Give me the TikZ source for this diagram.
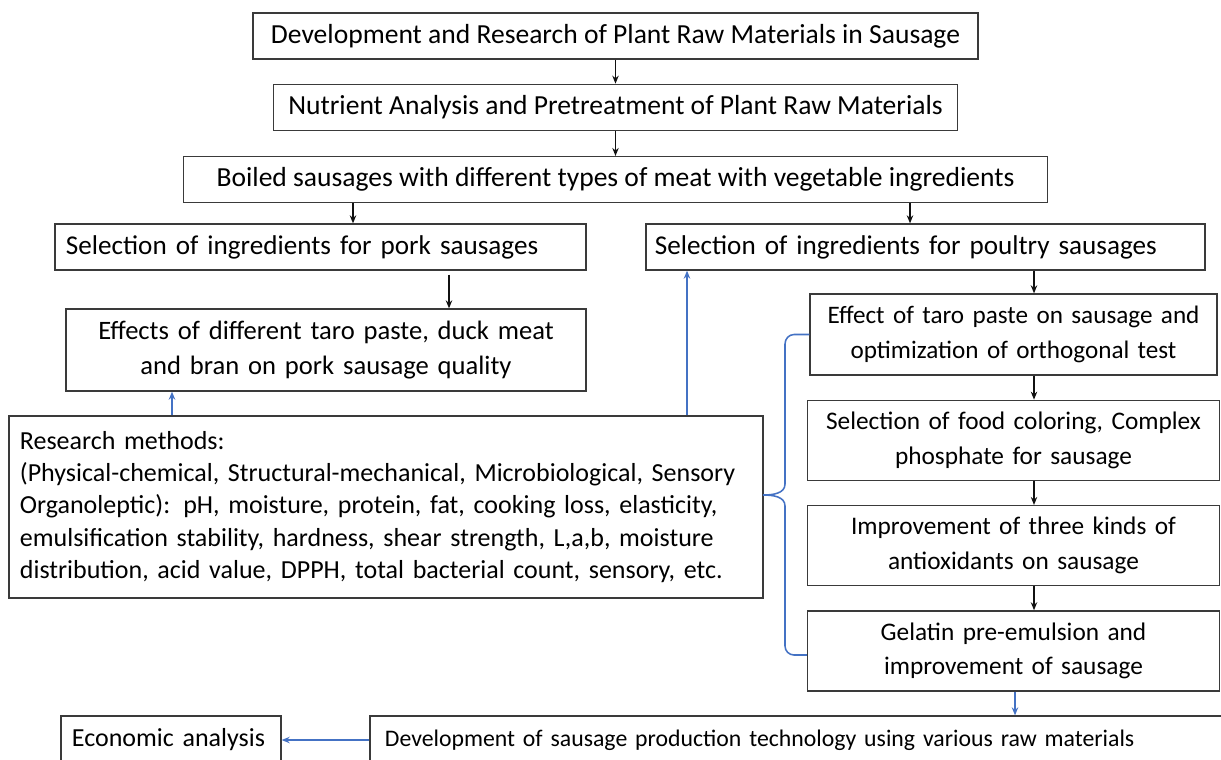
\documentclass[tikz,border=0pt]{standalone}
\usepackage{fontspec}
\setmainfont{Carlito}
\newfontfamily\tightfont[WordSpace=0.6]{Carlito}
\usepackage{tikz}
\usetikzlibrary{arrows.meta,positioning}
\definecolor{ink}{HTML}{111111}
\definecolor{frame}{HTML}{3A3A3A}
\definecolor{linkblue}{HTML}{4472C4}
\tikzset{
  box/.style={
    rectangle,
    draw=frame,
    line width=0.9pt,
    align=center,
    minimum height=1.15cm,
    inner xsep=0.25cm,
    inner ysep=2pt,
    font=\fontsize{18.5}{24.5}\selectfont
  },
  bigbox/.style={box, font=\fontsize{19.6}{24.5}\selectfont},
  leftbox/.style={box, align=left, inner xsep=0.275cm},
  stepnode/.style={box, text width=9.8cm, minimum height=2cm,
    font=\fontsize{18}{24.8}\selectfont},
  flow/.style={
    -{Stealth[length=2mm,width=1.6mm]},
    draw=ink,
    line width=1pt
  },
  feedback/.style={
    -{Stealth[length=2mm,width=1.6mm]},
    draw=linkblue,
    line width=1pt
  },
  bracket/.style={draw=linkblue, line width=1.1pt}
}

\begin{document}
\begin{tikzpicture}[x=0.025cm, y=-0.025cm, node distance=0.6cm]
\useasboundingbox (0,0) rectangle (1221,759);

% ---- Top chain ----
\node[bigbox, minimum width=18.125cm] (devres) at (615.5,36)
  {Development and Research of Plant Raw Materials in Sausage};
\node[bigbox, minimum width=17.1cm, below=of devres] (nutrient)
  {Nutrient Analysis and Pretreatment of Plant Raw Materials};
\node[bigbox, minimum width=21.6cm, below=0.625cm of nutrient] (boiled)
  {Boiled sausages with different types of meat with vegetable ingredients};

% ---- Pork branch ----
\node[leftbox, text width=12.725cm, font=\fontsize{19.3}{24.5}\selectfont] (pork) at (320.5,247)
  {Selection of ingredients for pork sausages};
\node[box, text width=12.5cm, minimum height=2.05cm,
  font=\fontsize{18.9}{24.5}\selectfont] (porkeffect) at (326,350)
  {Effects of different taro paste, duck meat\\and bran on pork sausage quality};
\node[leftbox, text width=18.3cm, minimum height=4.55cm,
  font=\fontsize{18.5}{22.8}\selectfont] (methods) at (386,507)
  {Research methods:\\
   (Physical-chemical, Structural-mechanical, Microbiological, Sensory\\
   Organoleptic): pH, moisture, protein, fat, cooking loss, elasticity,\\
   emulsification stability, hardness, shear strength, L,a,b, moisture\\
   distribution, acid value, DPPH, total bacterial count, sensory, etc.};

% ---- Poultry branch ----
\node[leftbox, text width=13.525cm, inner xsep=0.225cm,
  font=\fontsize{19.3}{24.5}\selectfont] (poultry) at (925.5,247)
  {Selection of ingredients for poultry sausages};
\node[stepnode, text width=9.675cm, minimum height=2.025cm,
  font=\fontsize{17.9}{24.8}\selectfont] (taro) at (1013.5,334.5)
  {Effect of taro paste on sausage and\\optimization of orthogonal test};
\node[stepnode, below=of taro] (coloring)
  {Selection of food coloring, Complex\\phosphate for sausage};
\node[stepnode, below=of coloring] (antiox)
  {Improvement of three kinds of\\antioxidants on sausage};
\node[stepnode, below=of antiox] (gelatin)
  {Gelatin pre-emulsion and\\improvement of sausage};

% ---- Bottom row ----
\node[leftbox, text width=4.95cm, minimum height=1.2cm] (econ) at (171,740)
  {Economic analysis};
\node[leftbox, text width=21cm, inner xsep=0.375cm, minimum height=1.2cm,
  font=\tightfont\fontsize{16.9}{22}\selectfont] (techdev) at (805,740)
  {Development of sausage production technology using various raw materials};

% ---- Flow ----
\draw[flow] (devres) -- (nutrient);
\draw[flow] (nutrient) -- (boiled);
\draw[flow] (353,0 |- boiled.south) -- (353,0 |- pork.north);
\draw[flow] (910,0 |- boiled.south) -- (910,0 |- poultry.north);
\draw[flow, shorten <=0.1cm] (449,0 |- pork.south) -- (449,0 |- porkeffect.north);

\draw[flow] (1034,0 |- poultry.south) -- (1034,0 |- taro.north);
\draw[flow] (1034,0 |- taro.south) -- (1034,0 |- coloring.north);
\draw[flow] (1034,0 |- coloring.south) -- (1034,0 |- antiox.north);
\draw[flow] (1034,0 |- antiox.south) -- (1034,0 |- gelatin.north);

% blue links
\draw[feedback] (172,0 |- methods.north) -- (172,0 |- porkeffect.south);
\draw[feedback] (687,0 |- methods.north) -- (687,0 |- poultry.south);
\draw[feedback] (1015,0 |- gelatin.south) -- (1015,0 |- techdev.north);
\draw[feedback] (techdev.west) -- (econ.east);

% brace from the poultry steps to the methods box
\coordinate (bracetip) at (763,495);
\draw[bracket] (taro.west) -- (794,334.5) to[out=180,in=90] (785,344)
  -- (785,484) to[out=-90,in=0] (bracetip) to[out=0,in=90] (785,506)
  -- (785,646) to[out=-90,in=180] (794,655) -- (gelatin.west |- 0,655);

\end{tikzpicture}
\end{document}
